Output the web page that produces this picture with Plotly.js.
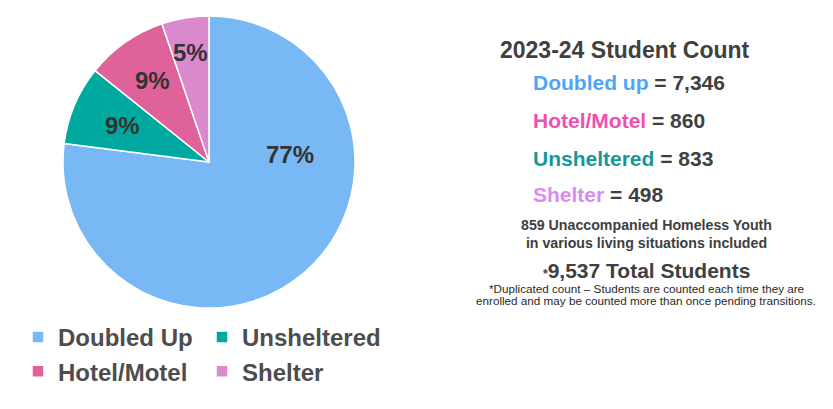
<!DOCTYPE html>
<html>
<head>
<meta charset="utf-8">
<script src="https://cdn.plot.ly/plotly-3.0.1.min.js"></script>
<style>
  html, body { margin: 0; padding: 0; background: #ffffff; }
  #chart { width: 833px; height: 409px; }
</style>
</head>
<body>
<div id="chart"></div>
<script>
// ---- Data ----
var categories = ['Doubled Up', 'Unsheltered', 'Hotel/Motel', 'Shelter'];
var counts = [7346, 833, 860, 498];
var sliceColors = ['#77B8F5', '#00A99F', '#E0629A', '#DA8ACC'];

var summaryTitle = '2023-24 Student Count';
var summaryLabels = ['Doubled up', 'Hotel/Motel', 'Unsheltered', 'Shelter'];
var summaryValues = [7346, 860, 833, 498];
var summaryColors = ['#4DA6F5', '#F050B0', '#12999A', '#D98CF0'];
var youthCount = 859;
var footnoteLines = [
  '*Duplicated count \u2013 Students are counted each time they are',
  'enrolled and may be counted more than once pending transitions.'
];

// ---- Layout constants ----
var W = 833, H = 409;
var M = {l: 0, r: 413, t: 0, b: 0};
var plotW = W - M.l - M.r, plotH = H - M.t - M.b;
var FONT = 'Liberation Sans, Arial, sans-serif';
var DARK = '#404040';

function px2x(px) { return (px - M.l) / plotW; }
function px2y(py) { return 1 - (py - M.t) / plotH; }

var pieCx = 209, pieCy = 162, pieR = 146;
var domainX = [px2x(pieCx - pieR), px2x(pieCx + pieR)];
var domainY = [px2y(pieCy + pieR), px2y(pieCy - pieR)];

var total = counts.reduce(function (a, b) { return a + b; }, 0);

// Percentage labels placed along each slice (clockwise from 12 o'clock)
var labelRadius = [0.56, 0.64, 0.68, 0.76];
var labelAngleOverride = {0: 85}; // the large slice label sits in its upper part, as in the reference
var annotations = [];
var cum = 0;
counts.forEach(function (v, i) {
  var a0 = cum / total * 360;
  cum += v;
  var a1 = cum / total * 360;
  var mid = (labelAngleOverride[i] !== undefined) ? labelAngleOverride[i] : (a0 + a1) / 2;
  var rad = mid * Math.PI / 180;
  var r = labelRadius[i] * pieR;
  annotations.push({
    xref: 'paper', yref: 'paper',
    x: px2x(pieCx + r * Math.sin(rad)),
    y: px2y(pieCy - r * Math.cos(rad)),
    xanchor: 'center', yanchor: 'middle',
    text: '<b>' + Math.round(v / total * 100) + '%</b>',
    showarrow: false,
    font: {family: FONT, size: 24, color: '#333333'}
  });
});

function fmt(n) { return n.toLocaleString('en-US'); }

// Right-hand summary panel
annotations.push({
  xref: 'paper', yref: 'paper', x: px2x(625), y: px2y(50),
  xanchor: 'center', yanchor: 'middle', showarrow: false,
  text: '<b>' + summaryTitle + '</b>',
  font: {family: FONT, size: 23, color: DARK}
});
var rowY = [82, 120, 158, 195];
summaryLabels.forEach(function (lab, i) {
  annotations.push({
    xref: 'paper', yref: 'paper', x: px2x(531), y: px2y(rowY[i]),
    xanchor: 'left', yanchor: 'middle', showarrow: false,
    text: '<b><span style="color:' + summaryColors[i] + '">' + lab + '</span> = ' + fmt(summaryValues[i]) + '</b>',
    font: {family: FONT, size: 21, color: DARK}
  });
});
annotations.push({
  xref: 'paper', yref: 'paper', x: px2x(646), y: px2y(234),
  xanchor: 'center', yanchor: 'middle', showarrow: false,
  text: '<b>' + youthCount + ' Unaccompanied Homeless Youth<br>in various living situations included</b>',
  font: {family: FONT, size: 14.2, color: DARK}
});
annotations.push({
  xref: 'paper', yref: 'paper', x: px2x(646), y: px2y(270),
  xanchor: 'center', yanchor: 'middle', showarrow: false,
  text: '<b><span style="font-size:12px">*</span>' + fmt(total) + ' Total Students</b>',
  font: {family: FONT, size: 21, color: DARK}
});
var footY = [288, 300];
footnoteLines.forEach(function (line, i) {
  annotations.push({
    xref: 'paper', yref: 'paper', x: px2x(646), y: px2y(footY[i]),
    xanchor: 'center', yanchor: 'middle', showarrow: false,
    text: line,
    font: {family: FONT, size: 11.7, color: '#2a2a2a'}
  });
});

var trace = {
  type: 'pie',
  labels: categories,
  values: counts,
  sort: false,
  direction: 'clockwise',
  rotation: 0,
  textinfo: 'none',
  hoverinfo: 'skip',
  marker: {colors: sliceColors, line: {color: '#ffffff', width: 1.5}},
  domain: {x: domainX, y: domainY}
};

var layout = {
  width: W, height: H,
  margin: M,
  paper_bgcolor: '#ffffff',
  plot_bgcolor: '#ffffff',
  showlegend: true,
  legend: {
    orientation: 'h',
    x: px2x(18), xanchor: 'left',
    y: px2y(315), yanchor: 'top',
    entrywidth: 139, entrywidthmode: 'pixels',
    font: {family: FONT, size: 24, color: '#4D4D4D', weight: 'bold'},
    traceorder: 'normal',
    itemclick: false, itemdoubleclick: false
  },
  annotations: annotations
};

Plotly.newPlot('chart', [trace], layout, {staticPlot: true, displayModeBar: false});
</script>
</body>
</html>
